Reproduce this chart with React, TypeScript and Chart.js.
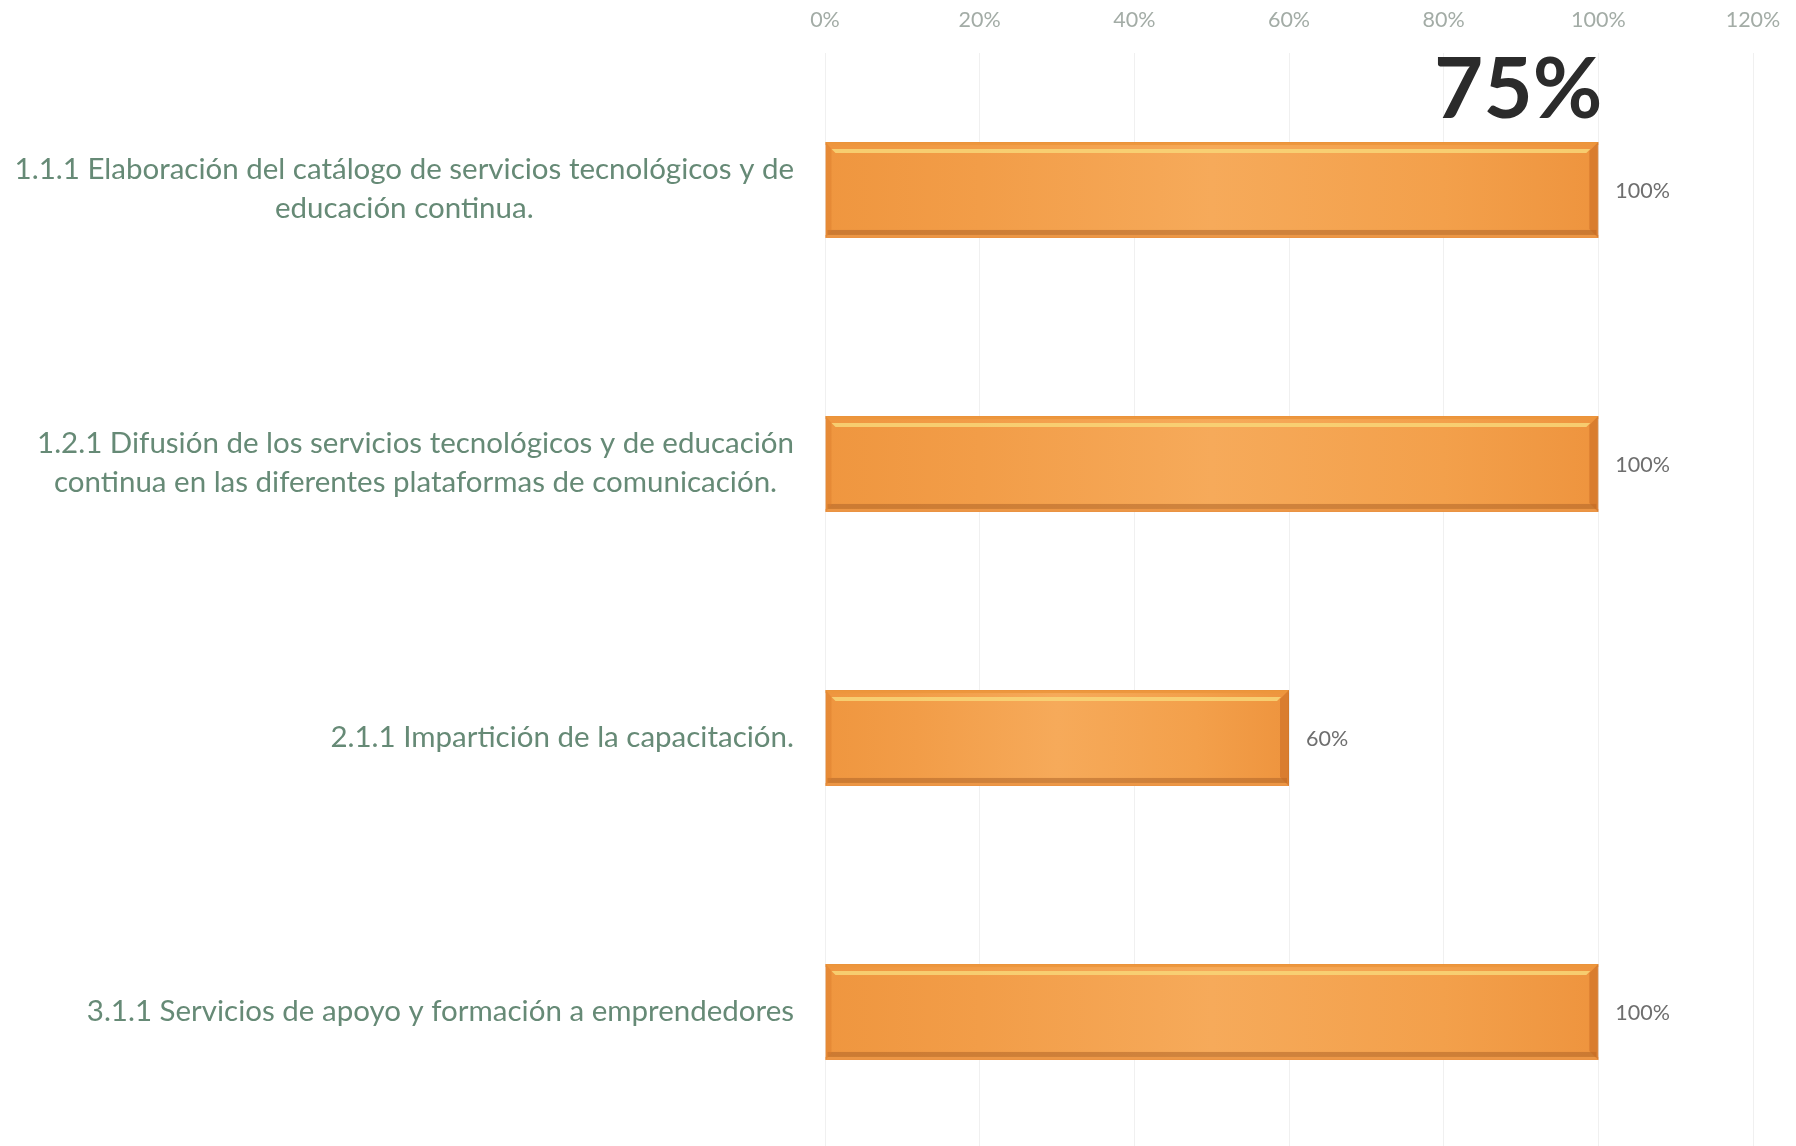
import React, { useEffect, useRef } from "react";
import { Chart, registerables } from "chart.js";

Chart.register(...registerables);

// ---- data ----
const categories: string[][] = [
  ["1.1.1 Elaboración del catálogo de servicios tecnológicos y de", "educación continua."],
  ["1.2.1 Difusión de los servicios tecnológicos y de educación", "continua en las diferentes plataformas de comunicación."],
  ["2.1.1 Impartición de la capacitación."],
  ["3.1.1 Servicios de apoyo y formación a emprendedores"],
];
const values: number[] = [100, 100, 60, 100];
const axisMin = 0;
const axisMax = 120;
const axisStep = 20;
const overallLabel = "75%";
const overallAnchorValue = 100;

// ---- styles ----
const FONT = "Lato, 'Open Sans', sans-serif";
const LABEL_COLOR = "#668a76";
const TICK_COLOR = "#a3aca6";
const VALUE_COLOR = "#6e6e6e";

const barGradient = (c: any) => {
  const chart = c.chart;
  const x = chart.scales && chart.scales.x;
  if (!chart.chartArea || !x || !c.parsed) return "#f3a04c";
  const x0 = x.getPixelForValue(0);
  const x1 = x.getPixelForValue(c.parsed.x);
  const g = chart.ctx.createLinearGradient(x0, 0, x1, 0);
  g.addColorStop(0, "#ef963f");
  g.addColorStop(0.2, "#f29d48");
  g.addColorStop(0.5, "#f6aa5a");
  g.addColorStop(0.8, "#f3a04b");
  g.addColorStop(1, "#ee943e");
  return g;
};

const bevelPlugin = {
  id: "bevel",
  afterDatasetsDraw(chart: any) {
    const ctx = chart.ctx;
    const meta = chart.getDatasetMeta(0);
    ctx.save();
    meta.data.forEach((el: any) => {
      const p = el.getProps(["x", "y", "base", "height"], true);
      const left = Math.min(p.base, p.x);
      const right = Math.max(p.base, p.x);
      const top = p.y - p.height / 2;
      const bottom = p.y + p.height / 2;
      const w = right - left;
      // top edge
      ctx.fillStyle = "rgba(236,150,60,0.9)";
      ctx.fillRect(left, top, w, 3);
      // yellow highlight band
      ctx.fillStyle = "rgba(248,214,120,0.85)";
      ctx.beginPath();
      ctx.moveTo(left + 6, top + 7);
      ctx.lineTo(right - 8, top + 7);
      ctx.lineTo(right - 12, top + 11);
      ctx.lineTo(left + 10, top + 11);
      ctx.closePath();
      ctx.fill();
      // bottom dark edge
      ctx.fillStyle = "rgba(175,100,40,0.55)";
      ctx.fillRect(left + 2, bottom - 8, w - 4, 5);
      ctx.fillStyle = "rgba(235,150,70,0.9)";
      ctx.fillRect(left, bottom - 3, w, 3);
      // right dark bevel
      ctx.fillStyle = "rgba(200,105,35,0.55)";
      ctx.beginPath();
      ctx.moveTo(right - 9, top + 9);
      ctx.lineTo(right, top);
      ctx.lineTo(right, bottom);
      ctx.lineTo(right - 9, bottom - 9);
      ctx.closePath();
      ctx.fill();
      // left bevel
      ctx.fillStyle = "rgba(220,125,45,0.45)";
      ctx.beginPath();
      ctx.moveTo(left, top);
      ctx.lineTo(left + 6, top + 7);
      ctx.lineTo(left + 6, bottom - 7);
      ctx.lineTo(left, bottom);
      ctx.closePath();
      ctx.fill();
    });
    ctx.restore();
  },
};

const valueLabelPlugin = {
  id: "valueLabels",
  afterDatasetsDraw(chart: any) {
    const ctx = chart.ctx;
    const meta = chart.getDatasetMeta(0);
    ctx.save();
    ctx.font = `21.5px ${FONT}`;
    ctx.fillStyle = VALUE_COLOR;
    ctx.textAlign = "left";
    ctx.textBaseline = "middle";
    meta.data.forEach((el: any, i: number) => {
      const p = el.getProps(["x", "y"], true);
      ctx.fillText(values[i] + "%", p.x + 17, p.y + 1);
    });
    // big overall label
    const xs = chart.scales.x;
    ctx.font = `bold 85px ${FONT}`;
    ctx.fillStyle = "#2b2b2b";
    ctx.textAlign = "right";
    ctx.textBaseline = "alphabetic";
    ctx.fillText(overallLabel, xs.getPixelForValue(overallAnchorValue) + 4, chart.chartArea.top + 65);
    ctx.restore();
  },
};

const categoryLabelPlugin = {
  id: "categoryLabels",
  afterDraw(chart: any) {
    const ctx = chart.ctx;
    const ys = chart.scales.y;
    ctx.save();
    ctx.font = `29.5px ${FONT}`;
    ctx.fillStyle = LABEL_COLOR;
    ctx.textAlign = "center";
    ctx.textBaseline = "middle";
    const right = chart.chartArea.left - 31;
    const lh = 39;
    categories.forEach((lines, i) => {
      const cy = ys.getPixelForValue(i) - 1;
      const maxW = Math.max(...lines.map((l) => ctx.measureText(l).width));
      const cx = right - maxW / 2;
      lines.forEach((l, j) => {
        ctx.fillText(l, cx, cy + (j - (lines.length - 1) / 2) * lh);
      });
    });
    ctx.restore();
  },
};

export default function App() {
  const ref = useRef<HTMLCanvasElement | null>(null);
  useEffect(() => {
    if (!ref.current) return;
    const chart = new Chart(ref.current, {
      type: "bar",
      data: {
        labels: categories.map((c) => c.join(" ")),
        datasets: [
          {
            data: values,
            backgroundColor: barGradient as any,
            borderColor: "#e08a34",
            borderWidth: 1,
            barPercentage: 0.35,
            categoryPercentage: 1,
          },
        ],
      },
      options: {
        indexAxis: "y",
        animation: false,
        responsive: true,
        maintainAspectRatio: false,
        layout: { padding: { left: 825, right: 43, top: 9, bottom: 1 } },
        plugins: {
          legend: { display: false },
          tooltip: { enabled: false },
          title: { display: false },
        },
        scales: {
          x: {
            position: "top",
            min: axisMin,
            max: axisMax,
            afterFit: (scale: any) => {
              scale.height = 44;
              scale.paddingLeft = 0;
              scale.paddingRight = 0;
            },
            ticks: {
              stepSize: axisStep,
              color: TICK_COLOR,
              font: { family: FONT, size: 21.5 },
              padding: 20,
              callback: (v: any) => v + "%",
            },
            grid: { color: "#f0f0f0", drawTicks: false, lineWidth: 1 },
            border: { display: false },
          },
          y: {
            display: false,
          },
        },
      },
      plugins: [bevelPlugin, valueLabelPlugin, categoryLabelPlugin],
    });
    return () => chart.destroy();
  }, []);
  return (
    <div
      style={{
        position: "fixed",
        left: 0,
        top: 0,
        width: 1796,
        height: 1150,
        background: "#ffffff",
      }}
    >
      <canvas ref={ref} />
    </div>
  );
}
